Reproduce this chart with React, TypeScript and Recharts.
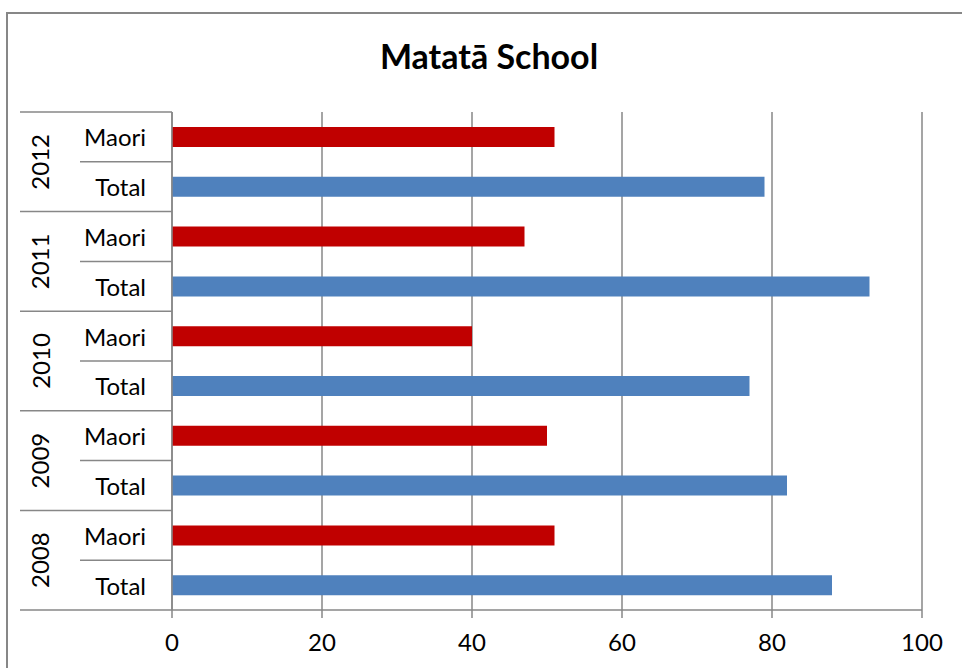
import React from 'react';
import { BarChart, Bar, XAxis, YAxis, CartesianGrid, Cell } from 'recharts';

const years = ['2012', '2011', '2010', '2009', '2008'];
const groupLabels = ['Maori', 'Total'];
const maoriValues = [51, 47, 40, 50, 51];
const totalValues = [79, 93, 77, 82, 88];
const xTicks = [0, 20, 40, 60, 80, 100];
const title = 'Matatā School';

const MAORI_COLOR = '#C00000';
const TOTAL_COLOR = '#4F81BD';
const AXIS_COLOR = '#878787';
const FONT = 'Lato, "Open Sans", sans-serif';
const LABEL_SIZE = 24;

const rows = years.flatMap((year, i) => [
  { key: `${year}-${groupLabels[0]}`, year, label: groupLabels[0], value: maoriValues[i] },
  { key: `${year}-${groupLabels[1]}`, year, label: groupLabels[1], value: totalValues[i] },
]);

const W = 962;
const H = 668;
const MARGIN = { top: 112, right: 40, bottom: 18, left: 0 };
const X_AXIS_H = 40;
const Y_AXIS_W = 172;
const PLOT_H = H - MARGIN.top - MARGIN.bottom - X_AXIS_H;
const BAND = PLOT_H / rows.length;

const YTick = (props: any) => {
  const { x, y, index } = props;
  const row = rows[index];
  if (!row) return null;
  const isFirstInGroup = index % 2 === 0;
  const bottomY = y + BAND / 2;
  const topY = y - BAND / 2;
  return (
    <g>
      <text
        x={x - 26}
        y={y}
        textAnchor="end"
        dominantBaseline="central"
        fontSize={LABEL_SIZE}
        fontFamily={FONT}
        fill="#000"
      >
        {row.label}
      </text>
      {index === 0 && (
        <line x1={x - 152} x2={x} y1={topY} y2={topY} stroke={AXIS_COLOR} strokeWidth={1.5} />
      )}
      <line
        x1={isFirstInGroup ? x - 92 : x - 152}
        x2={x}
        y1={bottomY}
        y2={bottomY}
        stroke={AXIS_COLOR}
        strokeWidth={1.5}
      />
      {isFirstInGroup && (
        <text
          x={x - 132}
          y={bottomY}
          textAnchor="middle"
          dominantBaseline="central"
          fontSize={LABEL_SIZE}
          fontFamily={FONT}
          fill="#000"
          transform={`rotate(-90, ${x - 132}, ${bottomY})`}
        >
          {row.year}
        </text>
      )}
    </g>
  );
};

export default function App() {
  return (
    <div
      style={{
        position: 'absolute',
        left: 0,
        top: 0,
        width: W,
        height: H,
        overflow: 'hidden',
        background: '#fff',
        fontFamily: FONT,
      }}
    >
      <div
        style={{
          position: 'absolute',
          left: 6,
          top: 12,
          width: 1100,
          height: 800,
          border: `2px solid ${AXIS_COLOR}`,
        }}
      />
      <div
        style={{
          position: 'absolute',
          left: 0,
          width: 978,
          top: 35,
          lineHeight: '42px',
          textAlign: 'center',
          fontWeight: 700,
          fontSize: 34,
          fontFamily: FONT,
          color: '#000',
        }}
      >
        {title}
      </div>
      <div style={{ position: 'absolute', left: 0, top: 0 }}>
        <BarChart width={W} height={H} data={rows} layout="vertical" margin={MARGIN}>
          <CartesianGrid horizontal={false} vertical stroke={AXIS_COLOR} strokeWidth={1.5} />
          <XAxis
            type="number"
            domain={[0, 100]}
            ticks={xTicks}
            height={X_AXIS_H}
            axisLine={{ stroke: AXIS_COLOR, strokeWidth: 1.5 }}
            tickLine={{ stroke: AXIS_COLOR, strokeWidth: 1.5 }}
            tickSize={8}
            tickMargin={16}
            tick={{ fill: '#000', fontSize: LABEL_SIZE, fontFamily: FONT }}
          />
          <YAxis
            type="category"
            dataKey="key"
            width={Y_AXIS_W}
            axisLine={{ stroke: AXIS_COLOR, strokeWidth: 1.5 }}
            tickLine={false}
            tickSize={0}
            tickMargin={0}
            interval={0}
            tick={<YTick />}
          />
          <Bar dataKey="value" barSize={20} isAnimationActive={false}>
            {rows.map((r) => (
              <Cell key={r.key} fill={r.label === groupLabels[0] ? MAORI_COLOR : TOTAL_COLOR} />
            ))}
          </Bar>
        </BarChart>
      </div>
    </div>
  );
}
